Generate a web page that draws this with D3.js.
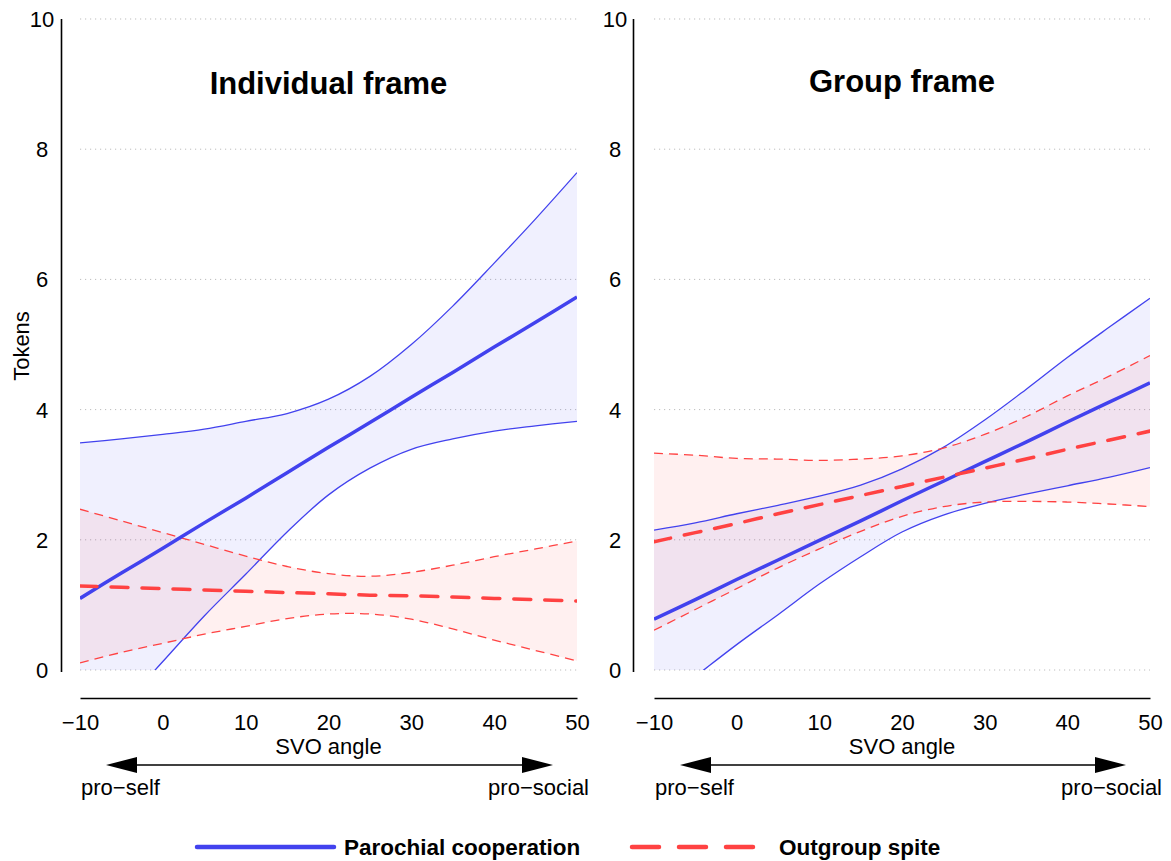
<!DOCTYPE html>
<html>
<head>
<meta charset="utf-8">
<script src="https://cdn.jsdelivr.net/npm/d3@7"></script>
<style>
  html, body { margin: 0; padding: 0; background: #fff; }
  svg { display: block; font-family: "Liberation Sans", Arial, Helvetica, sans-serif; }
</style>
</head>
<body>
<svg id="chart" width="1171" height="861"></svg>
<script>
// ---------------- data ----------------
const svo = [-10, -5, 0, 5, 10, 15, 20, 25, 30, 35, 40, 45, 50];
const yTicks = [0, 2, 4, 6, 8, 10];
const xTicks = [-10, 0, 10, 20, 30, 40, 50];
const panelTitles = ["Individual frame", "Group frame"];
const seriesNames = ["Parochial cooperation", "Outgroup spite"];

// Individual frame
const indCoopMean = [1.10, 1.49, 1.87, 2.26, 2.64, 3.03, 3.42, 3.80, 4.19, 4.57, 4.96, 5.34, 5.73];
const indCoopLow  = [-1.29, -0.57, 0.13, 0.83, 1.47, 2.12, 2.69, 3.10, 3.39, 3.55, 3.67, 3.75, 3.82];
const indCoopHigh = [3.49, 3.55, 3.62, 3.70, 3.82, 3.94, 4.16, 4.51, 5.00, 5.59, 6.25, 6.93, 7.64];
const indSpiteMean = [1.29, 1.27, 1.25, 1.23, 1.21, 1.19, 1.17, 1.15, 1.14, 1.12, 1.10, 1.08, 1.06];
const indSpiteLow  = [0.11, 0.27, 0.41, 0.55, 0.67, 0.79, 0.86, 0.86, 0.78, 0.63, 0.46, 0.30, 0.14];
const indSpiteHigh = [2.47, 2.29, 2.11, 1.93, 1.75, 1.59, 1.48, 1.44, 1.50, 1.61, 1.74, 1.86, 1.98];

// Group frame
const grpCoopMean = [0.78, 1.08, 1.39, 1.69, 1.99, 2.29, 2.60, 2.90, 3.20, 3.50, 3.81, 4.11, 4.41];
const grpCoopLow  = [-0.59, -0.10, 0.39, 0.85, 1.32, 1.74, 2.12, 2.38, 2.56, 2.70, 2.83, 2.96, 3.11];
const grpCoopHigh = [2.15, 2.26, 2.40, 2.53, 2.67, 2.84, 3.09, 3.42, 3.84, 4.31, 4.80, 5.26, 5.71];
const grpSpiteMean = [1.97, 2.11, 2.25, 2.40, 2.54, 2.68, 2.82, 2.96, 3.10, 3.24, 3.39, 3.53, 3.67];
const grpSpiteLow  = [0.61, 0.93, 1.25, 1.57, 1.86, 2.13, 2.36, 2.51, 2.58, 2.59, 2.58, 2.55, 2.51];
const grpSpiteHigh = [3.33, 3.30, 3.25, 3.24, 3.22, 3.24, 3.29, 3.41, 3.62, 3.89, 4.21, 4.51, 4.83];

// ---------------- styles ----------------
const BLUE = "#4242ee";
const RED = "#ff4242";
const BLUE_FILL = "rgba(66,66,238,0.08)";
const RED_FILL = "rgba(255,66,66,0.08)";

const svg = d3.select("#chart");

const panels = [
  { title: panelTitles[0], left: 80, right: 577, axisX: 61.5, labelX: 42, titleY: 94,
    coop: [indCoopMean, indCoopLow, indCoopHigh], spite: [indSpiteMean, indSpiteLow, indSpiteHigh] },
  { title: panelTitles[1], left: 654, right: 1150, axisX: 633.5, labelX: 615, titleY: 92,
    coop: [grpCoopMean, grpCoopLow, grpCoopHigh], spite: [grpSpiteMean, grpSpiteLow, grpSpiteHigh] }
];

const defs = svg.append("defs");

panels.forEach((p, pi) => {
  const x = d3.scaleLinear().domain([-10, 50]).range([p.left, p.right]);
  const y = d3.scaleLinear().domain([0, 10]).range([670, 19]);
  const g = svg.append("g");

  // clip
  defs.append("clipPath").attr("id", "clip" + pi)
    .append("rect")
    .attr("x", x(-10)).attr("y", y(10))
    .attr("width", x(50) - x(-10)).attr("height", y(0) - y(10));

  // gridlines
  g.append("g").selectAll("line").data(yTicks).join("line")
    .attr("x1", x(-10)).attr("x2", x(50))
    .attr("y1", d => y(d)).attr("y2", d => y(d))
    .attr("stroke", "#bdbdbd").attr("stroke-width", 1)
    .attr("stroke-dasharray", "1.2,3.8");

  // y axis line
  g.append("line")
    .attr("x1", p.axisX).attr("x2", p.axisX)
    .attr("y1", y(10)).attr("y2", y(0) + 2)
    .attr("stroke", "#000").attr("stroke-width", 1.6);

  // y tick labels
  g.append("g").selectAll("text").data(yTicks).join("text")
    .attr("x", p.labelX).attr("y", d => y(d)).attr("dy", "0.36em")
    .attr("text-anchor", "middle").attr("font-size", 22)
    .text(d => d);

  // x axis via d3.axisBottom (no ticks)
  const xAxis = d3.axisBottom(x).tickValues(xTicks).tickSize(0).tickPadding(0)
    .tickFormat(d => d < 0 ? "\u2212" + Math.abs(d) : d);
  const ax = g.append("g").attr("transform", "translate(0,698)").call(xAxis);
  ax.select(".domain").attr("stroke", "#000").attr("stroke-width", 1.6);
  ax.selectAll(".tick text").attr("font-size", 22).attr("fill", "#000")
    .attr("font-family", "Liberation Sans, Arial, sans-serif")
    .attr("y", 32).attr("dy", 0);

  // x label
  const cx = (x(-10) + x(50)) / 2;
  g.append("text").attr("x", cx).attr("y", 754).attr("text-anchor", "middle")
    .attr("font-size", 22).text("SVO angle");

  // double arrow
  const ay = 765, a0 = x(-10) + 26, a1 = x(50) - 24, ah = 31, hw = 8;
  g.append("line").attr("x1", a0 + ah - 2).attr("x2", a1 - ah + 2)
    .attr("y1", ay).attr("y2", ay).attr("stroke", "#000").attr("stroke-width", 1.5);
  g.append("path").attr("d", `M${a0},${ay}L${a0 + ah},${ay - hw}L${a0 + ah},${ay + hw}Z`).attr("fill", "#000");
  g.append("path").attr("d", `M${a1},${ay}L${a1 - ah},${ay - hw}L${a1 - ah},${ay + hw}Z`).attr("fill", "#000");

  g.append("text").attr("x", x(-10) + 1).attr("y", 795).attr("font-size", 22).text("pro\u2212self");
  g.append("text").attr("x", x(50) + 12).attr("y", 795).attr("font-size", 22)
    .attr("text-anchor", "end").text("pro\u2212social");

  // title
  g.append("text").attr("x", cx).attr("y", p.titleY).attr("text-anchor", "middle")
    .attr("font-size", 31).attr("font-weight", "bold").text(p.title);

  // curves
  const plot = g.append("g").attr("clip-path", `url(#clip${pi})`);
  const curve = d3.curveCatmullRom.alpha(0.5);
  const area = (lo, hi) => d3.area().curve(curve)
    .x((d, i) => x(svo[i])).y0((d, i) => y(lo[i])).y1((d, i) => y(hi[i]))(svo);
  const line = arr => d3.line().curve(curve).x((d, i) => x(svo[i])).y(d => y(d))(arr);

  plot.append("path").attr("d", area(p.coop[1], p.coop[2])).attr("fill", BLUE_FILL);
  plot.append("path").attr("d", area(p.spite[1], p.spite[2])).attr("fill", RED_FILL);

  [p.coop[1], p.coop[2]].forEach(arr => plot.append("path").attr("d", line(arr))
    .attr("fill", "none").attr("stroke", BLUE).attr("stroke-width", 1.3));
  [p.spite[1], p.spite[2]].forEach(arr => plot.append("path").attr("d", line(arr))
    .attr("fill", "none").attr("stroke", RED).attr("stroke-width", 1.3)
    .attr("stroke-dasharray", "9,6"));

  plot.append("path").attr("d", line(p.coop[0]))
    .attr("fill", "none").attr("stroke", BLUE).attr("stroke-width", 3.5);
  plot.append("path").attr("d", line(p.spite[0]))
    .attr("fill", "none").attr("stroke", RED).attr("stroke-width", 3.5)
    .attr("stroke-dasharray", "17,14").attr("stroke-linecap", "round");
});

// legend
const leg = svg.append("g");
const ly = 847;
leg.append("line").attr("x1", 197).attr("x2", 334).attr("y1", ly).attr("y2", ly)
  .attr("stroke", BLUE).attr("stroke-width", 4.5).attr("stroke-linecap", "round");
leg.append("text").attr("x", 344).attr("y", ly + 8).attr("font-size", 22.5)
  .attr("font-weight", "bold").text(seriesNames[0]);
leg.append("line").attr("x1", 632).attr("x2", 756).attr("y1", ly).attr("y2", ly)
  .attr("stroke", RED).attr("stroke-width", 4.5).attr("stroke-linecap", "round")
  .attr("stroke-dasharray", "27,20");
leg.append("text").attr("x", 779).attr("y", ly + 8).attr("font-size", 22.5)
  .attr("font-weight", "bold").text(seriesNames[1]);

// y axis title
svg.append("text").attr("transform", "translate(29,346) rotate(-90)")
  .attr("text-anchor", "middle").attr("font-size", 22).text("Tokens");
</script>
</body>
</html>
